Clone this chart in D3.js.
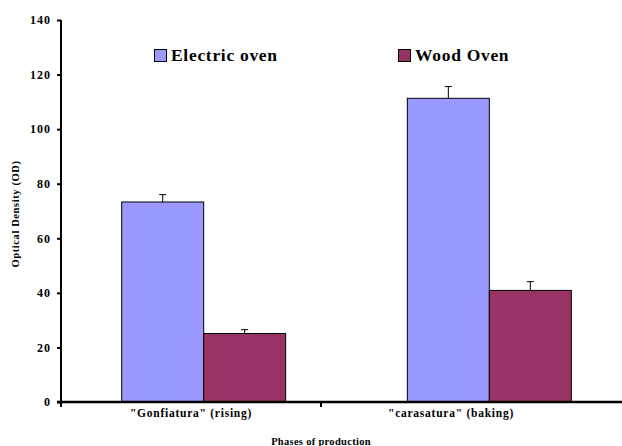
<!DOCTYPE html>
<html><head><meta charset="utf-8">
<script src="https://cdn.jsdelivr.net/npm/d3@7"></script>
<style>body{margin:0;background:#fff}svg{display:block}</style>
</head><body>
<svg id="c" width="622" height="446"></svg>
<script>
const categories = ['"Gonfiatura" (rising)', '"carasatura" (baking)'];
const seriesNames = ["Electric oven", "Wood Oven"];
const electricValues = [73.3, 111.3];
const electricErrors = [2.7, 4.3];
const woodValues = [25.1, 40.9];
const woodErrors = [1.4, 3.2];
const yTicks = [0, 20, 40, 60, 80, 100, 120, 140];
const colors = ["#9999FF", "#993366"];

const FONT = "'Liberation Serif', 'Times New Roman', 'DejaVu Serif', serif";

const series = [
  {name: seriesNames[0], values: electricValues, errors: electricErrors, color: colors[0]},
  {name: seriesNames[1], values: woodValues, errors: woodErrors, color: colors[1]}
];

const svg = d3.select("#c");
const x0 = 61, x1 = 581, yTop = 20, yBot = 402;

const y = d3.scaleLinear().domain([0, 140]).range([yBot, yTop]);
const xAxisScale = d3.scaleBand().domain(categories).range([x0, x1]);
const xGroup = d3.scaleBand().domain(categories).range([x0, 632]).paddingInner(0.426).paddingOuter(0.2125);
const xSeries = d3.scaleBand().domain(seriesNames).range([0, xGroup.bandwidth()]);

// bars
const groups = svg.append("g").selectAll("g").data(categories).join("g")
  .attr("transform", d => `translate(${xGroup(d)},0)`);
series.forEach(s => {
  groups.append("rect")
    .attr("x", (d, i) => xSeries(s.name))
    .attr("y", (d, i) => y(s.values[i]))
    .attr("width", xSeries.bandwidth())
    .attr("height", (d, i) => y(0) - y(s.values[i]))
    .attr("fill", s.color).attr("stroke", "#000").attr("stroke-width", 1);
  groups.append("path")
    .attr("d", (d, i) => {
      const cx = xSeries(s.name) + xSeries.bandwidth() / 2;
      const t = y(s.values[i] + s.errors[i]), b = y(s.values[i]);
      return `M${cx},${b}V${t}M${cx - 3.5},${t}H${cx + 3.5}`;
    })
    .attr("stroke", "#000").attr("stroke-width", 1).attr("fill", "none");
});

// y axis
const yAxis = svg.append("g").attr("transform", `translate(${x0},0)`)
  .call(d3.axisLeft(y).tickValues(yTicks).tickSize(4).tickSizeOuter(0).tickPadding(6));
yAxis.attr("font-family", null).attr("font-size", null);
yAxis.select(".domain").attr("stroke-width", 2).attr("d", `M0,${yTop}V${yBot + 1}`);
yAxis.selectAll(".tick line").attr("stroke-width", 2);
yAxis.selectAll("text").style("font-family", FONT).style("font-weight", "bold")
  .style("font-size", "12px").style("letter-spacing", "1px").attr("fill", "#000");

// x axis
const xa = svg.append("g").attr("transform", `translate(0,${yBot})`);
xa.append("line").attr("x1", x0 - 4).attr("x2", 622).attr("stroke", "#000").attr("stroke-width", 2.5);
xa.selectAll("line.tk").data(categories).join("line").attr("class", "tk")
  .attr("x1", d => xAxisScale(d)).attr("x2", d => xAxisScale(d))
  .attr("y1", 0).attr("y2", 5).attr("stroke", "#000").attr("stroke-width", 2);
xa.selectAll("text.cl").data(categories).join("text").attr("class", "cl")
  .attr("x", d => xAxisScale(d) + xAxisScale.bandwidth() / 2).attr("y", 15)
  .attr("text-anchor", "middle")
  .style("font-family", FONT).style("font-weight", "bold")
  .style("font-size", "11.5px").style("letter-spacing", "0.75px").text(d => d);

svg.append("text").attr("x", (x0 + x1) / 2).attr("y", 445).attr("text-anchor", "middle")
  .style("font-family", FONT).style("font-weight", "bold")
  .style("font-size", "10.5px").style("letter-spacing", "0.3px").text("Phases of production");

svg.append("text").attr("transform", "translate(19,214) rotate(-90)").attr("text-anchor", "middle")
  .style("font-family", FONT).style("font-weight", "bold")
  .style("font-size", "10.5px").style("letter-spacing", "0.6px").text("Optical Density (OD)");

// legend
const legendX = [154, 398];
series.forEach((s, i) => {
  svg.append("rect").attr("x", legendX[i] + 0.5).attr("y", 49.5).attr("width", 12).attr("height", 12)
    .attr("fill", s.color).attr("stroke", "#000").attr("stroke-width", 1);
  svg.append("text").attr("x", legendX[i] + 17).attr("y", 61)
    .style("font-family", FONT).style("font-weight", "bold")
    .style("font-size", "17.5px").style("letter-spacing", "0.7px").text(s.name);
});
</script>
</body></html>
